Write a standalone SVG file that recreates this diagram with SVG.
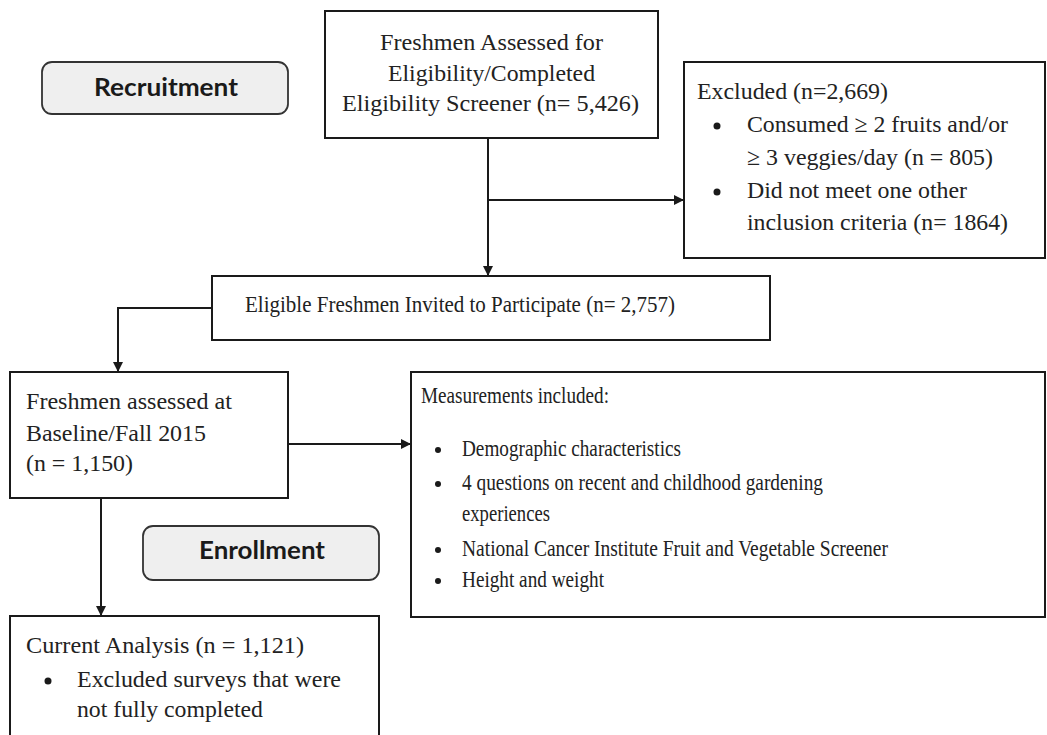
<svg xmlns="http://www.w3.org/2000/svg" width="1047" height="735" viewBox="0 0 1047 735">
<style>
.box{fill:#fff;stroke:#1a1a1a;stroke-width:2}
.tag{fill:#efefef;stroke:#333;stroke-width:1.8}
.t{font-family:"Liberation Serif","Times New Roman",serif;font-size:24px;fill:#222}
.s{font-family:Lato,"Open Sans",sans-serif;font-size:24px;font-weight:bold;fill:#1a1a1a}
.c{fill:none;stroke:#1a1a1a;stroke-width:2}
.b{fill:#1a1a1a}
</style>
<defs>
<marker id="ah" markerWidth="10" markerHeight="10" refX="9" refY="5" orient="auto" markerUnits="userSpaceOnUse">
<path d="M0,0 L10,5 L0,10 Z" fill="#1a1a1a"/>
</marker>
</defs>
<g id="connectors">
<path class="c" d="M488,138 V275" marker-end="url(#ah)"/>
<path class="c" d="M488,200 H683" marker-end="url(#ah)"/>
<path class="c" d="M212,308 H118 V371" marker-end="url(#ah)"/>
<path class="c" d="M288,444 H410" marker-end="url(#ah)"/>
<path class="c" d="M101,498 V615" marker-end="url(#ah)"/>
</g>
<g id="recruitment">
<rect class="tag" x="42" y="62" width="246" height="52" rx="10"/>
<text class="s" x="94" y="96" textLength="144" lengthAdjust="spacingAndGlyphs">Recruitment</text>
</g>
<g id="assessed">
<rect class="box" x="325" y="11" width="333" height="127"/>
<text class="t" x="380" y="50" textLength="223" lengthAdjust="spacingAndGlyphs">Freshmen Assessed for</text>
<text class="t" x="388" y="81" textLength="207" lengthAdjust="spacingAndGlyphs">Eligibility/Completed</text>
<text class="t" x="342" y="111" textLength="297" lengthAdjust="spacingAndGlyphs">Eligibility Screener (n= 5,426)</text>
</g>
<g id="excluded">
<rect class="box" x="684" y="62" width="361" height="196"/>
<text class="t" x="697" y="99" textLength="191" lengthAdjust="spacingAndGlyphs">Excluded (n=2,669)</text>
<circle class="b" cx="717" cy="126" r="3.5"/>
<text class="t" x="747" y="132" textLength="261" lengthAdjust="spacingAndGlyphs">Consumed ≥ 2 fruits and/or</text>
<text class="t" x="747" y="165" textLength="246" lengthAdjust="spacingAndGlyphs">≥ 3 veggies/day  (n = 805)</text>
<circle class="b" cx="717" cy="192" r="3.5"/>
<text class="t" x="747" y="198" textLength="220" lengthAdjust="spacingAndGlyphs">Did not meet one other</text>
<text class="t" x="747" y="230" textLength="261" lengthAdjust="spacingAndGlyphs">inclusion criteria (n= 1864)</text>
</g>
<g id="eligible">
<rect class="box" x="212" y="276" width="558" height="64"/>
<text class="t" x="245" y="312" textLength="430" lengthAdjust="spacingAndGlyphs">Eligible Freshmen Invited to Participate (n= 2,757)</text>
</g>
<g id="baseline">
<rect class="box" x="10" y="372" width="278" height="126"/>
<text class="t" x="26" y="409" textLength="206" lengthAdjust="spacingAndGlyphs">Freshmen assessed at</text>
<text class="t" x="26" y="441" textLength="180" lengthAdjust="spacingAndGlyphs">Baseline/Fall 2015</text>
<text class="t" x="26" y="471" textLength="107" lengthAdjust="spacingAndGlyphs">(n = 1,150)</text>
</g>
<g id="measurements">
<rect class="box" x="411" y="372" width="634" height="245"/>
<text class="t" x="421" y="403" textLength="188" lengthAdjust="spacingAndGlyphs">Measurements included:</text>
<circle class="b" cx="438" cy="450" r="3"/>
<text class="t" x="462" y="456" textLength="219" lengthAdjust="spacingAndGlyphs">Demographic characteristics</text>
<circle class="b" cx="438" cy="484" r="3"/>
<text class="t" x="462" y="490" textLength="361" lengthAdjust="spacingAndGlyphs">4 questions on recent and childhood gardening</text>
<text class="t" x="462" y="521" textLength="88" lengthAdjust="spacingAndGlyphs">experiences</text>
<circle class="b" cx="438" cy="550" r="3"/>
<text class="t" x="462" y="556" textLength="426" lengthAdjust="spacingAndGlyphs">National Cancer Institute Fruit and Vegetable Screener</text>
<circle class="b" cx="438" cy="581" r="3"/>
<text class="t" x="462" y="587" textLength="142" lengthAdjust="spacingAndGlyphs">Height and weight</text>
</g>
<g id="enrollment">
<rect class="tag" x="143" y="526" width="236" height="54" rx="10"/>
<text class="s" x="199" y="559" textLength="126" lengthAdjust="spacingAndGlyphs">Enrollment</text>
</g>
<g id="analysis">
<rect class="box" x="10" y="616" width="369" height="130"/>
<text class="t" x="26" y="653" textLength="278" lengthAdjust="spacingAndGlyphs">Current Analysis (n = 1,121)</text>
<circle class="b" cx="48" cy="681" r="3.5"/>
<text class="t" x="77" y="687" textLength="264" lengthAdjust="spacingAndGlyphs">Excluded surveys that were</text>
<text class="t" x="77" y="717" textLength="186" lengthAdjust="spacingAndGlyphs">not fully completed</text>
</g>
</svg>
